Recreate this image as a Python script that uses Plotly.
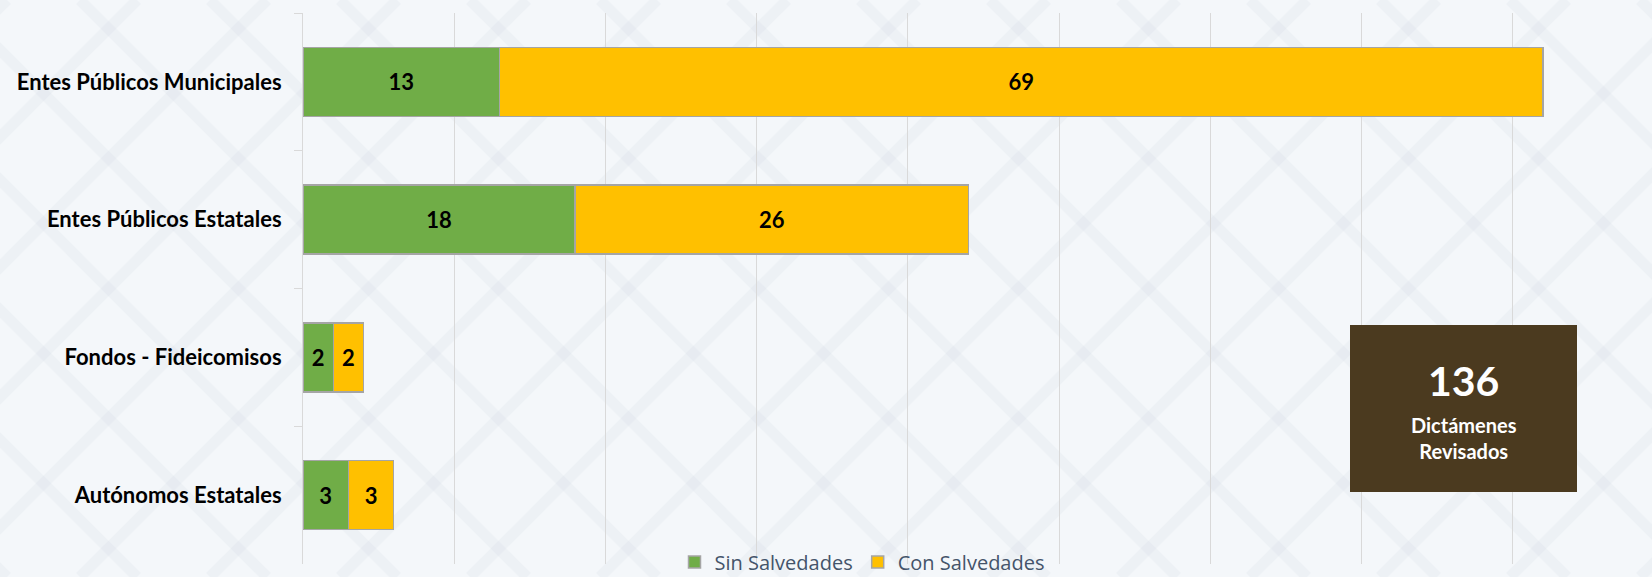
import plotly.graph_objects as go

categories = ["Entes Públicos Municipales", "Entes Públicos Estatales", "Fondos - Fideicomisos", "Autónomos Estatales"]
sin_salvedades = [13, 18, 2, 3]
con_salvedades = [69, 26, 2, 3]
series_names = ["Sin Salvedades", "Con Salvedades"]
total_value = "136"
total_label = ["Dictámenes", "Revisados"]

W, H = 1652, 577
L, R, T, B = 303, 0, 13, 13
pw, ph = W - L - R, H - T - B

def px_x(x):
    return (x - L) / pw

def px_y(y):
    return (H - B - y) / ph

fig = go.Figure()
colors = ["#70AD47", "#FFC000"]
for name, vals, col in zip(series_names, [sin_salvedades, con_salvedades], colors):
    fig.add_trace(go.Bar(
        y=categories, x=vals, name=name, orientation="h",
        marker=dict(color=col, line=dict(color="#A5A5A5", width=1.5)),
        text=[str(v) for v in vals], textposition="inside", insidetextanchor="middle",
        textangle=0, constraintext="none",
        textfont=dict(family="Lato", size=22, color="#000000", weight="bold"),
    ))

# decorative faint diamond lattice in the background
shapes = []
step = 130
for c in range(-700, 2400, step):
    shapes.append(dict(type="line", xref="paper", yref="paper",
                       x0=px_x(c), y0=px_y(0), x1=px_x(c + H), y1=px_y(H),
                       line=dict(color="rgba(190,204,220,0.13)", width=11), layer="below"))
    shapes.append(dict(type="line", xref="paper", yref="paper",
                       x0=px_x(c), y0=px_y(H), x1=px_x(c + H), y1=px_y(0),
                       line=dict(color="rgba(190,204,220,0.13)", width=11), layer="below"))
# summary box
shapes.append(dict(type="rect", xref="paper", yref="paper",
                   x0=px_x(1350), x1=px_x(1577), y0=px_y(492), y1=px_y(325),
                   fillcolor="#4B3A1F", line=dict(width=0), layer="above"))

fig.update_layout(
    width=W, height=H,
    margin=dict(l=L, r=R, t=T, b=B, autoexpand=False),
    barmode="stack", bargap=0.5,
    paper_bgcolor="#F4F7FA", plot_bgcolor="rgba(0,0,0,0)",
    uniformtext=dict(minsize=22, mode="show"),
    font=dict(family="Lato"),
    showlegend=True,
    legend=dict(orientation="h", x=px_x(862), xanchor="center", y=px_y(562), yanchor="middle",
                font=dict(family="Open Sans", size=20, color="#44546A"),
                bgcolor="rgba(0,0,0,0)", itemwidth=30, traceorder="normal"),
    xaxis=dict(range=[0, 89.2], dtick=10, showgrid=True, gridcolor="#D9D9D9", gridwidth=1,
               showticklabels=False, zeroline=False, showline=False, fixedrange=True),
    yaxis=dict(autorange="reversed", tickson="boundaries", ticks="outside", ticklen=8,
               tickcolor="#D9D9D9", showline=True, linecolor="#D9D9D9", linewidth=1,
               showgrid=False, ticklabelstandoff=16,
               tickfont=dict(family="Lato", size=22, color="#000000", weight="bold")),
    shapes=shapes,
)

cx = px_x(1463.5)
fig.add_annotation(xref="paper", yref="paper", x=cx, y=px_y(381), text=f"<b>{total_value}</b>",
                   xanchor="center", yanchor="middle", align="center",
                   showarrow=False, font=dict(family="Lato", size=41, color="white"))
fig.add_annotation(xref="paper", yref="paper", x=cx, y=px_y(438), text="<b>" + "<br>".join(total_label) + "</b>",
                   xanchor="center", yanchor="middle", align="center",
                   showarrow=False, font=dict(family="Lato", size=20, color="white"))

fig.write_html("out.html", config={"displayModeBar": False},
               post_script="document.body.style.margin='0px';")
